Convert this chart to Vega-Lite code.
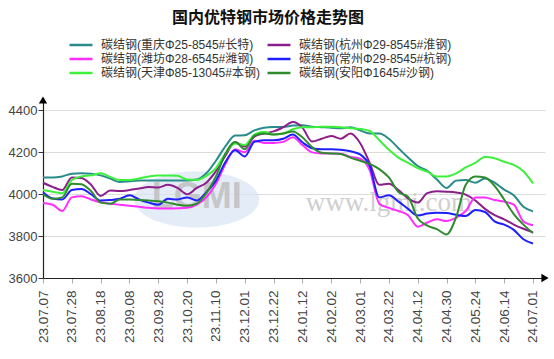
{
  "$schema": "https://vega.github.io/schema/vega-lite/v6.json",
  "width": 502,
  "height": 178,
  "autosize": {"type": "none"},
  "padding": {"left": 43, "top": 100, "right": 9, "bottom": 81},
  "background": "white",
  "title": {"text": "国内优特钢市场价格走势图", "font": "Noto Sans CJK SC", "fontSize": 16, "fontWeight": "bold", "color": "#111", "anchor": "middle", "dx": -26, "offset": 12},
  "config": {"view": {"stroke": null}, "font": "Liberation Sans"},
  "datasets": {
    "prices": [
{"s":"碳结钢(重庆Φ25-8545#长特)","d":"23.07.07","v":4080},{"s":"碳结钢(重庆Φ25-8545#长特)","d":"23.07.14","v":4080},{"s":"碳结钢(重庆Φ25-8545#长特)","d":"23.07.21","v":4085},{"s":"碳结钢(重庆Φ25-8545#长特)","d":"23.07.28","v":4098},{"s":"碳结钢(重庆Φ25-8545#长特)","d":"23.08.04","v":4100},{"s":"碳结钢(重庆Φ25-8545#长特)","d":"23.08.11","v":4098},{"s":"碳结钢(重庆Φ25-8545#长特)","d":"23.08.18","v":4090},{"s":"碳结钢(重庆Φ25-8545#长特)","d":"23.08.25","v":4075},{"s":"碳结钢(重庆Φ25-8545#长特)","d":"23.09.01","v":4058},{"s":"碳结钢(重庆Φ25-8545#长特)","d":"23.09.08","v":4062},
{"s":"碳结钢(重庆Φ25-8545#长特)","d":"23.09.15","v":4065},{"s":"碳结钢(重庆Φ25-8545#长特)","d":"23.09.22","v":4065},{"s":"碳结钢(重庆Φ25-8545#长特)","d":"23.09.28","v":4065},{"s":"碳结钢(重庆Φ25-8545#长特)","d":"23.10.08","v":4065},{"s":"碳结钢(重庆Φ25-8545#长特)","d":"23.10.13","v":4066},{"s":"碳结钢(重庆Φ25-8545#长特)","d":"23.10.20","v":4066},{"s":"碳结钢(重庆Φ25-8545#长特)","d":"23.10.27","v":4070},{"s":"碳结钢(重庆Φ25-8545#长特)","d":"23.11.03","v":4100},{"s":"碳结钢(重庆Φ25-8545#长特)","d":"23.11.10","v":4160},{"s":"碳结钢(重庆Φ25-8545#长特)","d":"23.11.17","v":4230},
{"s":"碳结钢(重庆Φ25-8545#长特)","d":"23.11.24","v":4280},{"s":"碳结钢(重庆Φ25-8545#长特)","d":"23.12.01","v":4282},{"s":"碳结钢(重庆Φ25-8545#长特)","d":"23.12.08","v":4305},{"s":"碳结钢(重庆Φ25-8545#长特)","d":"23.12.15","v":4318},{"s":"碳结钢(重庆Φ25-8545#长特)","d":"23.12.22","v":4321},{"s":"碳结钢(重庆Φ25-8545#长特)","d":"23.12.29","v":4321},{"s":"碳结钢(重庆Φ25-8545#长特)","d":"24.01.05","v":4328},{"s":"碳结钢(重庆Φ25-8545#长特)","d":"24.01.12","v":4330},{"s":"碳结钢(重庆Φ25-8545#长特)","d":"24.01.19","v":4322},{"s":"碳结钢(重庆Φ25-8545#长特)","d":"24.01.26","v":4320},
{"s":"碳结钢(重庆Φ25-8545#长特)","d":"24.02.02","v":4318},{"s":"碳结钢(重庆Φ25-8545#长特)","d":"24.02.08","v":4315},{"s":"碳结钢(重庆Φ25-8545#长特)","d":"24.02.23","v":4320},{"s":"碳结钢(重庆Φ25-8545#长特)","d":"24.03.01","v":4305},{"s":"碳结钢(重庆Φ25-8545#长特)","d":"24.03.08","v":4290},{"s":"碳结钢(重庆Φ25-8545#长特)","d":"24.03.15","v":4290},{"s":"碳结钢(重庆Φ25-8545#长特)","d":"24.03.22","v":4265},{"s":"碳结钢(重庆Φ25-8545#长特)","d":"24.03.29","v":4220},{"s":"碳结钢(重庆Φ25-8545#长特)","d":"24.04.03","v":4175},{"s":"碳结钢(重庆Φ25-8545#长特)","d":"24.04.12","v":4135},
{"s":"碳结钢(重庆Φ25-8545#长特)","d":"24.04.19","v":4112},{"s":"碳结钢(重庆Φ25-8545#长特)","d":"24.04.26","v":4070},{"s":"碳结钢(重庆Φ25-8545#长特)","d":"24.04.30","v":4030},{"s":"碳结钢(重庆Φ25-8545#长特)","d":"24.05.10","v":4065},{"s":"碳结钢(重庆Φ25-8545#长特)","d":"24.05.17","v":4068},{"s":"碳结钢(重庆Φ25-8545#长特)","d":"24.05.24","v":4055},{"s":"碳结钢(重庆Φ25-8545#长特)","d":"24.05.31","v":4075},{"s":"碳结钢(重庆Φ25-8545#长特)","d":"24.06.07","v":4055},{"s":"碳结钢(重庆Φ25-8545#长特)","d":"24.06.14","v":4022},{"s":"碳结钢(重庆Φ25-8545#长特)","d":"24.06.21","v":3995},
{"s":"碳结钢(重庆Φ25-8545#长特)","d":"24.06.28","v":3940},{"s":"碳结钢(重庆Φ25-8545#长特)","d":"24.07.01","v":3918},
{"s":"碳结钢(杭州Φ29-8545#淮钢)","d":"23.07.07","v":4055},{"s":"碳结钢(杭州Φ29-8545#淮钢)","d":"23.07.14","v":4035},{"s":"碳结钢(杭州Φ29-8545#淮钢)","d":"23.07.21","v":4020},{"s":"碳结钢(杭州Φ29-8545#淮钢)","d":"23.07.28","v":4080},{"s":"碳结钢(杭州Φ29-8545#淮钢)","d":"23.08.04","v":4077},{"s":"碳结钢(杭州Φ29-8545#淮钢)","d":"23.08.11","v":4045},{"s":"碳结钢(杭州Φ29-8545#淮钢)","d":"23.08.18","v":3992},{"s":"碳结钢(杭州Φ29-8545#淮钢)","d":"23.08.25","v":4018},{"s":"碳结钢(杭州Φ29-8545#淮钢)","d":"23.09.01","v":4015},{"s":"碳结钢(杭州Φ29-8545#淮钢)","d":"23.09.08","v":4020},
{"s":"碳结钢(杭州Φ29-8545#淮钢)","d":"23.09.15","v":4027},{"s":"碳结钢(杭州Φ29-8545#淮钢)","d":"23.09.22","v":4034},{"s":"碳结钢(杭州Φ29-8545#淮钢)","d":"23.09.28","v":4032},{"s":"碳结钢(杭州Φ29-8545#淮钢)","d":"23.10.08","v":4045},{"s":"碳结钢(杭州Φ29-8545#淮钢)","d":"23.10.13","v":4030},{"s":"碳结钢(杭州Φ29-8545#淮钢)","d":"23.10.20","v":4000},{"s":"碳结钢(杭州Φ29-8545#淮钢)","d":"23.10.27","v":4030},{"s":"碳结钢(杭州Φ29-8545#淮钢)","d":"23.11.03","v":4055},{"s":"碳结钢(杭州Φ29-8545#淮钢)","d":"23.11.10","v":4110},{"s":"碳结钢(杭州Φ29-8545#淮钢)","d":"23.11.17","v":4185},
{"s":"碳结钢(杭州Φ29-8545#淮钢)","d":"23.11.24","v":4248},{"s":"碳结钢(杭州Φ29-8545#淮钢)","d":"23.12.01","v":4228},{"s":"碳结钢(杭州Φ29-8545#淮钢)","d":"23.12.08","v":4275},{"s":"碳结钢(杭州Φ29-8545#淮钢)","d":"23.12.15","v":4290},{"s":"碳结钢(杭州Φ29-8545#淮钢)","d":"23.12.22","v":4300},{"s":"碳结钢(杭州Φ29-8545#淮钢)","d":"23.12.29","v":4320},{"s":"碳结钢(杭州Φ29-8545#淮钢)","d":"24.01.05","v":4345},{"s":"碳结钢(杭州Φ29-8545#淮钢)","d":"24.01.12","v":4318},{"s":"碳结钢(杭州Φ29-8545#淮钢)","d":"24.01.19","v":4252},{"s":"碳结钢(杭州Φ29-8545#淮钢)","d":"24.01.26","v":4265},
{"s":"碳结钢(杭州Φ29-8545#淮钢)","d":"24.02.02","v":4278},{"s":"碳结钢(杭州Φ29-8545#淮钢)","d":"24.02.08","v":4265},{"s":"碳结钢(杭州Φ29-8545#淮钢)","d":"24.02.23","v":4290},{"s":"碳结钢(杭州Φ29-8545#淮钢)","d":"24.03.01","v":4245},{"s":"碳结钢(杭州Φ29-8545#淮钢)","d":"24.03.08","v":4150},{"s":"碳结钢(杭州Φ29-8545#淮钢)","d":"24.03.15","v":4045},{"s":"碳结钢(杭州Φ29-8545#淮钢)","d":"24.03.22","v":4050},{"s":"碳结钢(杭州Φ29-8545#淮钢)","d":"24.03.29","v":4020},{"s":"碳结钢(杭州Φ29-8545#淮钢)","d":"24.04.03","v":3980},{"s":"碳结钢(杭州Φ29-8545#淮钢)","d":"24.04.12","v":3960},
{"s":"碳结钢(杭州Φ29-8545#淮钢)","d":"24.04.19","v":4005},{"s":"碳结钢(杭州Φ29-8545#淮钢)","d":"24.04.26","v":4014},{"s":"碳结钢(杭州Φ29-8545#淮钢)","d":"24.04.30","v":4012},{"s":"碳结钢(杭州Φ29-8545#淮钢)","d":"24.05.10","v":4008},{"s":"碳结钢(杭州Φ29-8545#淮钢)","d":"24.05.17","v":3998},{"s":"碳结钢(杭州Φ29-8545#淮钢)","d":"24.05.24","v":3970},{"s":"碳结钢(杭州Φ29-8545#淮钢)","d":"24.05.31","v":3930},{"s":"碳结钢(杭州Φ29-8545#淮钢)","d":"24.06.07","v":3900},{"s":"碳结钢(杭州Φ29-8545#淮钢)","d":"24.06.14","v":3880},{"s":"碳结钢(杭州Φ29-8545#淮钢)","d":"24.06.21","v":3855},
{"s":"碳结钢(杭州Φ29-8545#淮钢)","d":"24.06.28","v":3835},{"s":"碳结钢(杭州Φ29-8545#淮钢)","d":"24.07.01","v":3818},
{"s":"碳结钢(潍坊Φ28-6545#潍钢)","d":"23.07.07","v":3958},{"s":"碳结钢(潍坊Φ28-6545#潍钢)","d":"23.07.14","v":3950},{"s":"碳结钢(潍坊Φ28-6545#潍钢)","d":"23.07.21","v":3920},{"s":"碳结钢(潍坊Φ28-6545#潍钢)","d":"23.07.28","v":3985},{"s":"碳结钢(潍坊Φ28-6545#潍钢)","d":"23.08.04","v":3990},{"s":"碳结钢(潍坊Φ28-6545#潍钢)","d":"23.08.11","v":3975},{"s":"碳结钢(潍坊Φ28-6545#潍钢)","d":"23.08.18","v":3962},{"s":"碳结钢(潍坊Φ28-6545#潍钢)","d":"23.08.25","v":3955},{"s":"碳结钢(潍坊Φ28-6545#潍钢)","d":"23.09.01","v":3950},{"s":"碳结钢(潍坊Φ28-6545#潍钢)","d":"23.09.08","v":3945},
{"s":"碳结钢(潍坊Φ28-6545#潍钢)","d":"23.09.15","v":3940},{"s":"碳结钢(潍坊Φ28-6545#潍钢)","d":"23.09.22","v":3935},{"s":"碳结钢(潍坊Φ28-6545#潍钢)","d":"23.09.28","v":3932},{"s":"碳结钢(潍坊Φ28-6545#潍钢)","d":"23.10.08","v":3932},{"s":"碳结钢(潍坊Φ28-6545#潍钢)","d":"23.10.13","v":3933},{"s":"碳结钢(潍坊Φ28-6545#潍钢)","d":"23.10.20","v":3935},{"s":"碳结钢(潍坊Φ28-6545#潍钢)","d":"23.10.27","v":3950},{"s":"碳结钢(潍坊Φ28-6545#潍钢)","d":"23.11.03","v":3985},{"s":"碳结钢(潍坊Φ28-6545#潍钢)","d":"23.11.10","v":4050},{"s":"碳结钢(潍坊Φ28-6545#潍钢)","d":"23.11.17","v":4145},
{"s":"碳结钢(潍坊Φ28-6545#潍钢)","d":"23.11.24","v":4215},{"s":"碳结钢(潍坊Φ28-6545#潍钢)","d":"23.12.01","v":4200},{"s":"碳结钢(潍坊Φ28-6545#潍钢)","d":"23.12.08","v":4255},{"s":"碳结钢(潍坊Φ28-6545#潍钢)","d":"23.12.15","v":4245},{"s":"碳结钢(潍坊Φ28-6545#潍钢)","d":"23.12.22","v":4245},{"s":"碳结钢(潍坊Φ28-6545#潍钢)","d":"23.12.29","v":4250},{"s":"碳结钢(潍坊Φ28-6545#潍钢)","d":"24.01.05","v":4272},{"s":"碳结钢(潍坊Φ28-6545#潍钢)","d":"24.01.12","v":4235},{"s":"碳结钢(潍坊Φ28-6545#潍钢)","d":"24.01.19","v":4200},{"s":"碳结钢(潍坊Φ28-6545#潍钢)","d":"24.01.26","v":4195},
{"s":"碳结钢(潍坊Φ28-6545#潍钢)","d":"24.02.02","v":4195},{"s":"碳结钢(潍坊Φ28-6545#潍钢)","d":"24.02.08","v":4193},{"s":"碳结钢(潍坊Φ28-6545#潍钢)","d":"24.02.23","v":4178},{"s":"碳结钢(潍坊Φ28-6545#潍钢)","d":"24.03.01","v":4170},{"s":"碳结钢(潍坊Φ28-6545#潍钢)","d":"24.03.08","v":4115},{"s":"碳结钢(潍坊Φ28-6545#潍钢)","d":"24.03.15","v":3955},{"s":"碳结钢(潍坊Φ28-6545#潍钢)","d":"24.03.22","v":3935},{"s":"碳结钢(潍坊Φ28-6545#潍钢)","d":"24.03.29","v":3920},{"s":"碳结钢(潍坊Φ28-6545#潍钢)","d":"24.04.03","v":3900},{"s":"碳结钢(潍坊Φ28-6545#潍钢)","d":"24.04.12","v":3845},
{"s":"碳结钢(潍坊Φ28-6545#潍钢)","d":"24.04.19","v":3865},{"s":"碳结钢(潍坊Φ28-6545#潍钢)","d":"24.04.26","v":3880},{"s":"碳结钢(潍坊Φ28-6545#潍钢)","d":"24.04.30","v":3872},{"s":"碳结钢(潍坊Φ28-6545#潍钢)","d":"24.05.10","v":3888},{"s":"碳结钢(潍坊Φ28-6545#潍钢)","d":"24.05.17","v":3920},{"s":"碳结钢(潍坊Φ28-6545#潍钢)","d":"24.05.24","v":3985},{"s":"碳结钢(潍坊Φ28-6545#潍钢)","d":"24.05.31","v":3985},{"s":"碳结钢(潍坊Φ28-6545#潍钢)","d":"24.06.07","v":3972},{"s":"碳结钢(潍坊Φ28-6545#潍钢)","d":"24.06.14","v":3965},{"s":"碳结钢(潍坊Φ28-6545#潍钢)","d":"24.06.21","v":3950},
{"s":"碳结钢(潍坊Φ28-6545#潍钢)","d":"24.06.28","v":3870},{"s":"碳结钢(潍坊Φ28-6545#潍钢)","d":"24.07.01","v":3852},
{"s":"碳结钢(常州Φ29-8545#杭钢)","d":"23.07.07","v":4010},{"s":"碳结钢(常州Φ29-8545#杭钢)","d":"23.07.14","v":3980},{"s":"碳结钢(常州Φ29-8545#杭钢)","d":"23.07.21","v":3975},{"s":"碳结钢(常州Φ29-8545#杭钢)","d":"23.07.28","v":4020},{"s":"碳结钢(常州Φ29-8545#杭钢)","d":"23.08.04","v":4025},{"s":"碳结钢(常州Φ29-8545#杭钢)","d":"23.08.11","v":4000},{"s":"碳结钢(常州Φ29-8545#杭钢)","d":"23.08.18","v":3970},{"s":"碳结钢(常州Φ29-8545#杭钢)","d":"23.08.25","v":3972},{"s":"碳结钢(常州Φ29-8545#杭钢)","d":"23.09.01","v":3978},{"s":"碳结钢(常州Φ29-8545#杭钢)","d":"23.09.08","v":3995},
{"s":"碳结钢(常州Φ29-8545#杭钢)","d":"23.09.15","v":3975},{"s":"碳结钢(常州Φ29-8545#杭钢)","d":"23.09.22","v":3960},{"s":"碳结钢(常州Φ29-8545#杭钢)","d":"23.09.28","v":3950},{"s":"碳结钢(常州Φ29-8545#杭钢)","d":"23.10.08","v":3978},{"s":"碳结钢(常州Φ29-8545#杭钢)","d":"23.10.13","v":3975},{"s":"碳结钢(常州Φ29-8545#杭钢)","d":"23.10.20","v":3985},{"s":"碳结钢(常州Φ29-8545#杭钢)","d":"23.10.27","v":3970},{"s":"碳结钢(常州Φ29-8545#杭钢)","d":"23.11.03","v":4010},{"s":"碳结钢(常州Φ29-8545#杭钢)","d":"23.11.10","v":4065},{"s":"碳结钢(常州Φ29-8545#杭钢)","d":"23.11.17","v":4155},
{"s":"碳结钢(常州Φ29-8545#杭钢)","d":"23.11.24","v":4210},{"s":"碳结钢(常州Φ29-8545#杭钢)","d":"23.12.01","v":4180},{"s":"碳结钢(常州Φ29-8545#杭钢)","d":"23.12.08","v":4250},{"s":"碳结钢(常州Φ29-8545#杭钢)","d":"23.12.15","v":4258},{"s":"碳结钢(常州Φ29-8545#杭钢)","d":"23.12.22","v":4258},{"s":"碳结钢(常州Φ29-8545#杭钢)","d":"23.12.29","v":4265},{"s":"碳结钢(常州Φ29-8545#杭钢)","d":"24.01.05","v":4285},{"s":"碳结钢(常州Φ29-8545#杭钢)","d":"24.01.12","v":4248},{"s":"碳结钢(常州Φ29-8545#杭钢)","d":"24.01.19","v":4220},{"s":"碳结钢(常州Φ29-8545#杭钢)","d":"24.01.26","v":4215},
{"s":"碳结钢(常州Φ29-8545#杭钢)","d":"24.02.02","v":4215},{"s":"碳结钢(常州Φ29-8545#杭钢)","d":"24.02.08","v":4212},{"s":"碳结钢(常州Φ29-8545#杭钢)","d":"24.02.23","v":4205},{"s":"碳结钢(常州Φ29-8545#杭钢)","d":"24.03.01","v":4190},{"s":"碳结钢(常州Φ29-8545#杭钢)","d":"24.03.08","v":4135},{"s":"碳结钢(常州Φ29-8545#杭钢)","d":"24.03.15","v":3985},{"s":"碳结钢(常州Φ29-8545#杭钢)","d":"24.03.22","v":3995},{"s":"碳结钢(常州Φ29-8545#杭钢)","d":"24.03.29","v":3965},{"s":"碳结钢(常州Φ29-8545#杭钢)","d":"24.04.03","v":3930},{"s":"碳结钢(常州Φ29-8545#杭钢)","d":"24.04.12","v":3898},
{"s":"碳结钢(常州Φ29-8545#杭钢)","d":"24.04.19","v":3908},{"s":"碳结钢(常州Φ29-8545#杭钢)","d":"24.04.26","v":3912},{"s":"碳结钢(常州Φ29-8545#杭钢)","d":"24.04.30","v":3910},{"s":"碳结钢(常州Φ29-8545#杭钢)","d":"24.05.10","v":3902},{"s":"碳结钢(常州Φ29-8545#杭钢)","d":"24.05.17","v":3896},{"s":"碳结钢(常州Φ29-8545#杭钢)","d":"24.05.24","v":3925},{"s":"碳结钢(常州Φ29-8545#杭钢)","d":"24.05.31","v":3915},{"s":"碳结钢(常州Φ29-8545#杭钢)","d":"24.06.07","v":3870},{"s":"碳结钢(常州Φ29-8545#杭钢)","d":"24.06.14","v":3855},{"s":"碳结钢(常州Φ29-8545#杭钢)","d":"24.06.21","v":3830},
{"s":"碳结钢(常州Φ29-8545#杭钢)","d":"24.06.28","v":3785},{"s":"碳结钢(常州Φ29-8545#杭钢)","d":"24.07.01","v":3765},
{"s":"碳结钢(天津Φ85-13045#本钢)","d":"23.07.07","v":4020},{"s":"碳结钢(天津Φ85-13045#本钢)","d":"23.07.14","v":4012},{"s":"碳结钢(天津Φ85-13045#本钢)","d":"23.07.21","v":4005},{"s":"碳结钢(天津Φ85-13045#本钢)","d":"23.07.28","v":4068},{"s":"碳结钢(天津Φ85-13045#本钢)","d":"23.08.04","v":4085},{"s":"碳结钢(天津Φ85-13045#本钢)","d":"23.08.11","v":4090},{"s":"碳结钢(天津Φ85-13045#本钢)","d":"23.08.18","v":4100},{"s":"碳结钢(天津Φ85-13045#本钢)","d":"23.08.25","v":4083},{"s":"碳结钢(天津Φ85-13045#本钢)","d":"23.09.01","v":4068},{"s":"碳结钢(天津Φ85-13045#本钢)","d":"23.09.08","v":4068},
{"s":"碳结钢(天津Φ85-13045#本钢)","d":"23.09.15","v":4075},{"s":"碳结钢(天津Φ85-13045#本钢)","d":"23.09.22","v":4085},{"s":"碳结钢(天津Φ85-13045#本钢)","d":"23.09.28","v":4090},{"s":"碳结钢(天津Φ85-13045#本钢)","d":"23.10.08","v":4090},{"s":"碳结钢(天津Φ85-13045#本钢)","d":"23.10.13","v":4088},{"s":"碳结钢(天津Φ85-13045#本钢)","d":"23.10.20","v":4070},{"s":"碳结钢(天津Φ85-13045#本钢)","d":"23.10.27","v":4068},{"s":"碳结钢(天津Φ85-13045#本钢)","d":"23.11.03","v":4088},{"s":"碳结钢(天津Φ85-13045#本钢)","d":"23.11.10","v":4125},{"s":"碳结钢(天津Φ85-13045#本钢)","d":"23.11.17","v":4195},
{"s":"碳结钢(天津Φ85-13045#本钢)","d":"23.11.24","v":4242},{"s":"碳结钢(天津Φ85-13045#本钢)","d":"23.12.01","v":4235},{"s":"碳结钢(天津Φ85-13045#本钢)","d":"23.12.08","v":4285},{"s":"碳结钢(天津Φ85-13045#本钢)","d":"23.12.15","v":4298},{"s":"碳结钢(天津Φ85-13045#本钢)","d":"23.12.22","v":4285},{"s":"碳结钢(天津Φ85-13045#本钢)","d":"23.12.29","v":4290},{"s":"碳结钢(天津Φ85-13045#本钢)","d":"24.01.05","v":4310},{"s":"碳结钢(天津Φ85-13045#本钢)","d":"24.01.12","v":4320},{"s":"碳结钢(天津Φ85-13045#本钢)","d":"24.01.19","v":4320},{"s":"碳结钢(天津Φ85-13045#本钢)","d":"24.01.26","v":4322},
{"s":"碳结钢(天津Φ85-13045#本钢)","d":"24.02.02","v":4322},{"s":"碳结钢(天津Φ85-13045#本钢)","d":"24.02.08","v":4320},{"s":"碳结钢(天津Φ85-13045#本钢)","d":"24.02.23","v":4315},{"s":"碳结钢(天津Φ85-13045#本钢)","d":"24.03.01","v":4312},{"s":"碳结钢(天津Φ85-13045#本钢)","d":"24.03.08","v":4302},{"s":"碳结钢(天津Φ85-13045#本钢)","d":"24.03.15","v":4258},{"s":"碳结钢(天津Φ85-13045#本钢)","d":"24.03.22","v":4212},{"s":"碳结钢(天津Φ85-13045#本钢)","d":"24.03.29","v":4175},{"s":"碳结钢(天津Φ85-13045#本钢)","d":"24.04.03","v":4150},{"s":"碳结钢(天津Φ85-13045#本钢)","d":"24.04.12","v":4125},
{"s":"碳结钢(天津Φ85-13045#本钢)","d":"24.04.19","v":4108},{"s":"碳结钢(天津Φ85-13045#本钢)","d":"24.04.26","v":4085},{"s":"碳结钢(天津Φ85-13045#本钢)","d":"24.04.30","v":4085},{"s":"碳结钢(天津Φ85-13045#本钢)","d":"24.05.10","v":4100},{"s":"碳结钢(天津Φ85-13045#本钢)","d":"24.05.17","v":4128},{"s":"碳结钢(天津Φ85-13045#本钢)","d":"24.05.24","v":4150},{"s":"碳结钢(天津Φ85-13045#本钢)","d":"24.05.31","v":4178},{"s":"碳结钢(天津Φ85-13045#本钢)","d":"24.06.07","v":4172},{"s":"碳结钢(天津Φ85-13045#本钢)","d":"24.06.14","v":4155},{"s":"碳结钢(天津Φ85-13045#本钢)","d":"24.06.21","v":4140},
{"s":"碳结钢(天津Φ85-13045#本钢)","d":"24.06.28","v":4110},{"s":"碳结钢(天津Φ85-13045#本钢)","d":"24.07.01","v":4052},
{"s":"碳结钢(安阳Φ1645#沙钢)","d":"23.07.07","v":4000},{"s":"碳结钢(安阳Φ1645#沙钢)","d":"23.07.14","v":3978},{"s":"碳结钢(安阳Φ1645#沙钢)","d":"23.07.21","v":3985},{"s":"碳结钢(安阳Φ1645#沙钢)","d":"23.07.28","v":4050},{"s":"碳结钢(安阳Φ1645#沙钢)","d":"23.08.04","v":4048},{"s":"碳结钢(安阳Φ1645#沙钢)","d":"23.08.11","v":4015},{"s":"碳结钢(安阳Φ1645#沙钢)","d":"23.08.18","v":3960},{"s":"碳结钢(安阳Φ1645#沙钢)","d":"23.08.25","v":3955},{"s":"碳结钢(安阳Φ1645#沙钢)","d":"23.09.01","v":3975},{"s":"碳结钢(安阳Φ1645#沙钢)","d":"23.09.08","v":3975},
{"s":"碳结钢(安阳Φ1645#沙钢)","d":"23.09.15","v":3972},{"s":"碳结钢(安阳Φ1645#沙钢)","d":"23.09.22","v":3970},{"s":"碳结钢(安阳Φ1645#沙钢)","d":"23.09.28","v":3967},{"s":"碳结钢(安阳Φ1645#沙钢)","d":"23.10.08","v":3960},{"s":"碳结钢(安阳Φ1645#沙钢)","d":"23.10.13","v":3950},{"s":"碳结钢(安阳Φ1645#沙钢)","d":"23.10.20","v":3945},{"s":"碳结钢(安阳Φ1645#沙钢)","d":"23.10.27","v":3955},{"s":"碳结钢(安阳Φ1645#沙钢)","d":"23.11.03","v":4005},{"s":"碳结钢(安阳Φ1645#沙钢)","d":"23.11.10","v":4085},{"s":"碳结钢(安阳Φ1645#沙钢)","d":"23.11.17","v":4195},
{"s":"碳结钢(安阳Φ1645#沙钢)","d":"23.11.24","v":4250},{"s":"碳结钢(安阳Φ1645#沙钢)","d":"23.12.01","v":4215},{"s":"碳结钢(安阳Φ1645#沙钢)","d":"23.12.08","v":4280},{"s":"碳结钢(安阳Φ1645#沙钢)","d":"23.12.15","v":4290},{"s":"碳结钢(安阳Φ1645#沙钢)","d":"23.12.22","v":4285},{"s":"碳结钢(安阳Φ1645#沙钢)","d":"23.12.29","v":4290},{"s":"碳结钢(安阳Φ1645#沙钢)","d":"24.01.05","v":4300},{"s":"碳结钢(安阳Φ1645#沙钢)","d":"24.01.12","v":4272},{"s":"碳结钢(安阳Φ1645#沙钢)","d":"24.01.19","v":4225},{"s":"碳结钢(安阳Φ1645#沙钢)","d":"24.01.26","v":4198},
{"s":"碳结钢(安阳Φ1645#沙钢)","d":"24.02.02","v":4195},{"s":"碳结钢(安阳Φ1645#沙钢)","d":"24.02.08","v":4192},{"s":"碳结钢(安阳Φ1645#沙钢)","d":"24.02.23","v":4175},{"s":"碳结钢(安阳Φ1645#沙钢)","d":"24.03.01","v":4160},{"s":"碳结钢(安阳Φ1645#沙钢)","d":"24.03.08","v":4145},{"s":"碳结钢(安阳Φ1645#沙钢)","d":"24.03.15","v":4120},{"s":"碳结钢(安阳Φ1645#沙钢)","d":"24.03.22","v":4080},{"s":"碳结钢(安阳Φ1645#沙钢)","d":"24.03.29","v":4010},{"s":"碳结钢(安阳Φ1645#沙钢)","d":"24.04.03","v":3988},{"s":"碳结钢(安阳Φ1645#沙钢)","d":"24.04.12","v":3885},
{"s":"碳结钢(安阳Φ1645#沙钢)","d":"24.04.19","v":3850},{"s":"碳结钢(安阳Φ1645#沙钢)","d":"24.04.26","v":3833},{"s":"碳结钢(安阳Φ1645#沙钢)","d":"24.04.30","v":3808},{"s":"碳结钢(安阳Φ1645#沙钢)","d":"24.05.10","v":3890},{"s":"碳结钢(安阳Φ1645#沙钢)","d":"24.05.17","v":4045},{"s":"碳结钢(安阳Φ1645#沙钢)","d":"24.05.24","v":4085},{"s":"碳结钢(安阳Φ1645#沙钢)","d":"24.05.31","v":4080},{"s":"碳结钢(安阳Φ1645#沙钢)","d":"24.06.07","v":4040},{"s":"碳结钢(安阳Φ1645#沙钢)","d":"24.06.14","v":3975},{"s":"碳结钢(安阳Φ1645#沙钢)","d":"24.06.21","v":3905},
{"s":"碳结钢(安阳Φ1645#沙钢)","d":"24.06.28","v":3855},{"s":"碳结钢(安阳Φ1645#沙钢)","d":"24.07.01","v":3815}
    ],
    "one": [{"k": 1}]
  },
  "layer": [
    {
      "data": {"name": "one"},
      "mark": {"type": "point", "shape": "M-1,0A1,0.45,0,1,0,1,0A1,0.45,0,1,0,-1,0Z", "filled": true, "color": "#d9e5f3", "opacity": 0.7, "size": 15625},
      "encoding": {
        "x": {"datum": "23.10.27", "type": "ordinal"},
        "y": {"datum": 3975, "type": "quantitative"}
      }
    },
    {
      "data": {"name": "one"},
      "mark": {"type": "text", "text": "LGMI", "font": "Liberation Sans", "fontSize": 36, "fontWeight": "bold", "color": "#bdbdbd", "opacity": 0.8, "align": "center", "baseline": "middle"},
      "encoding": {
        "x": {"datum": "23.10.27", "type": "ordinal"},
        "y": {"datum": 3985, "type": "quantitative"}
      }
    },
    {
      "data": {"name": "one"},
      "mark": {"type": "text", "text": "www.lgmi.com", "font": "Liberation Serif", "fontSize": 27, "color": "#c4c4c4", "opacity": 0.8, "align": "center", "baseline": "middle"},
      "encoding": {
        "x": {"datum": "24.03.22", "type": "ordinal"},
        "y": {"datum": 3958, "type": "quantitative"}
      }
    },
    {
      "data": {"name": "prices"},
      "mark": {"type": "line", "interpolate": "monotone", "strokeWidth": 2},
      "encoding": {
        "x": {
          "field": "d", "type": "ordinal",
          "scale": {"type": "point", "padding": 0.625, "align": 0},
          "axis": {
            "title": null,
            "values": ["23.07.07","23.07.28","23.08.18","23.09.08","23.09.28","23.10.20","23.11.10","23.12.01","23.12.22","24.01.12","24.02.02","24.03.01","24.03.22","24.04.12","24.04.30","24.05.24","24.06.14","24.07.01"],
            "labelAngle": -90, "labelFont": "Liberation Sans", "labelFontSize": 13.5, "labelColor": "#444",
            "labelPadding": 7, "tickSize": 5, "tickColor": "#aaa", "domainColor": "#222", "domainWidth": 1.2, "grid": false
          }
        },
        "y": {
          "field": "v", "type": "quantitative",
          "scale": {"domain": [3600, 4450], "nice": false, "zero": false},
          "axis": {
            "title": null, "values": [3600, 3800, 4000, 4200, 4400], "format": "d",
            "labelFont": "Liberation Sans", "labelFontSize": 13, "labelColor": "#444", "labelPadding": 1,
            "tickSize": 5, "tickColor": "#333", "domainColor": "#222", "domainWidth": 1.2,
            "grid": true, "gridColor": "#dcdcdc"
          }
        },
        "color": {
          "field": "s", "type": "nominal",
          "scale": {
            "domain": ["碳结钢(重庆Φ25-8545#长特)","碳结钢(潍坊Φ28-6545#潍钢)","碳结钢(天津Φ85-13045#本钢)","碳结钢(杭州Φ29-8545#淮钢)","碳结钢(常州Φ29-8545#杭钢)","碳结钢(安阳Φ1645#沙钢)"],
            "range": ["#2a8b8b","#ff2eff","#3cf03c","#8c1e8c","#1e1eff","#2e8b2e"]
          },
          "legend": {
            "orient": "none", "legendX": 31, "legendY": -62, "columns": 2, "title": null,
            "symbolType": "M-2,0H2", "symbolStrokeWidth": 2.5, "symbolSize": 132,
            "labelFont": "Liberation Sans, Noto Sans CJK SC", "labelFontSize": 12, "labelColor": "#333", "labelLimit": 300,
            "columnPadding": 2, "rowPadding": 1, "labelOffset": 13
          }
        }
      }
    },
    {
      "data": {"name": "one"},
      "mark": {"type": "point", "shape": "triangle-up", "filled": true, "color": "#000", "opacity": 1, "size": 70},
      "encoding": {
        "x": {"datum": "23.07.07", "type": "ordinal"},
        "y": {"datum": 4450, "type": "quantitative"}
      }
    },
    {
      "data": {"name": "one"},
      "mark": {"type": "point", "shape": "triangle-right", "filled": true, "color": "#000", "opacity": 1, "size": 70},
      "encoding": {
        "x": {"value": "width"},
        "y": {"datum": 3600, "type": "quantitative"}
      }
    }
  ]
}
